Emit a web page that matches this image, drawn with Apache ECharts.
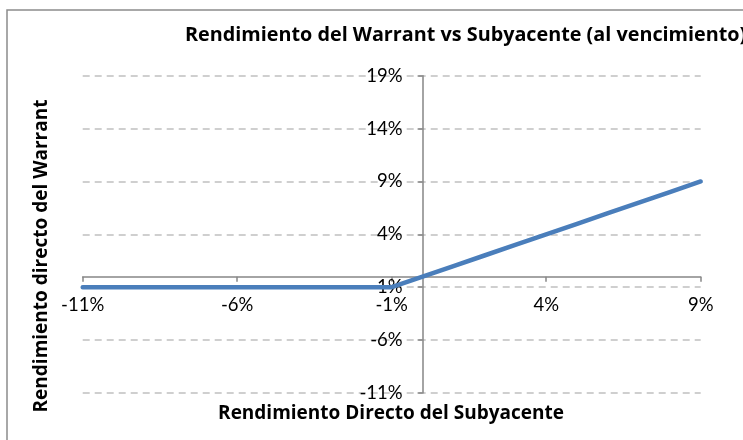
<!DOCTYPE html>
<html>
<head>
<meta charset="utf-8">
<script src="https://cdn.jsdelivr.net/npm/echarts@6/dist/echarts.min.js"></script>
<style>
html,body{margin:0;padding:0;background:#fff;}
#chart{width:743px;height:440px;}
</style>
</head>
<body>
<div id="chart"></div>
<script>
// Data (percent units)
var subyacente = [-11, -10, -9, -8, -7, -6, -5, -4, -3, -2, -1, 0, 1, 2, 3, 4, 5, 6, 7, 8, 9];
var warrant    = [-1, -1, -1, -1, -1, -1, -1, -1, -1, -1, -1, 0, 1, 2, 3, 4, 5, 6, 7, 8, 9];
var xTicks = [-11, -6, -1, 4, 9];
var yTicks = [-11, -6, -1, 4, 9, 14, 19];
var titleText = 'Rendimiento del Warrant vs Subyacente (al vencimiento)';
var xName = 'Rendimiento Directo del Subyacente';
var yName = 'Rendimiento directo del Warrant';

var pts = subyacente.map(function (x, i) { return [x, warrant[i]]; });
var FONT = 'Lato';
var BFONT = 'Open Sans';
var G = {left: 82.7, right: 42.3, top: 75.7, bottom: 47};
var plotW = 743 - G.left - G.right, plotH = 440 - G.top - G.bottom;
var xMin = xTicks[0], xMax = xTicks[xTicks.length - 1];
var yMin = yTicks[0], yMax = yTicks[yTicks.length - 1];
// shift axes so they cross at zero (Excel style)
var xAxisOffset = -plotH * (0 - yMin) / (yMax - yMin);
var yAxisOffset = -plotW * (0 - xMin) / (xMax - xMin);

var chart = echarts.init(document.getElementById('chart'), null, {renderer: 'canvas'});
chart.setOption({
  animation: false,
  backgroundColor: '#fff',
  textStyle: {fontFamily: FONT},
  title: {
    text: titleText,
    left: 180, top: 20,
    textStyle: {fontFamily: BFONT, fontWeight: 'bold', fontSize: 19.8, color: '#000'}
  },
  grid: {left: G.left, right: G.right, top: G.top, bottom: G.bottom, containLabel: false},
  graphic: [
    {type: 'rect', shape: {x: 7, y: 10, width: 800, height: 500}, style: {fill: 'none', stroke: '#8c8c8c', lineWidth: 1.5}, z: -1},
    {type: 'text', x: 391, y: 414, style: {text: xName, font: 'bold 19px "' + BFONT + '"', fill: '#000', textAlign: 'center', textVerticalAlign: 'middle'}},
    {type: 'text', x: 42, y: 256, rotation: Math.PI / 2, style: {text: yName, font: 'bold 19px "' + BFONT + '"', fill: '#000', textAlign: 'center', textVerticalAlign: 'middle'}}
  ],
  xAxis: {
    type: 'value', min: xMin, max: xMax, interval: 5,
    offset: xAxisOffset,
    axisLine: {onZero: false, lineStyle: {color: '#868686', width: 1.5}},
    axisTick: {show: true, length: 5, lineStyle: {color: '#868686', width: 1.5}},
    axisLabel: {margin: 19, fontSize: 18.5, color: '#000', fontFamily: FONT, formatter: function (v) { return v + '%'; }},
    splitLine: {show: false}
  },
  yAxis: {
    type: 'value', min: yMin, max: yMax, interval: 5,
    offset: yAxisOffset,
    axisLine: {onZero: false, lineStyle: {color: '#868686', width: 1.5}},
    axisTick: {show: true, length: 5, lineStyle: {color: '#868686', width: 1.5}},
    axisLabel: {margin: 20, fontSize: 18.5, color: '#000', fontFamily: FONT, formatter: function (v) { return v + '%'; }},
    splitLine: {show: true, lineStyle: {color: '#c0c0c0', width: 1.5, type: [7, 5]}}
  },
  series: [{
    type: 'line', data: pts, showSymbol: false, symbol: 'none',
    lineStyle: {color: '#4a7ebb', width: 4.5, cap: 'round', join: 'round'},
    z: 3
  }]
});
</script>
</body>
</html>
